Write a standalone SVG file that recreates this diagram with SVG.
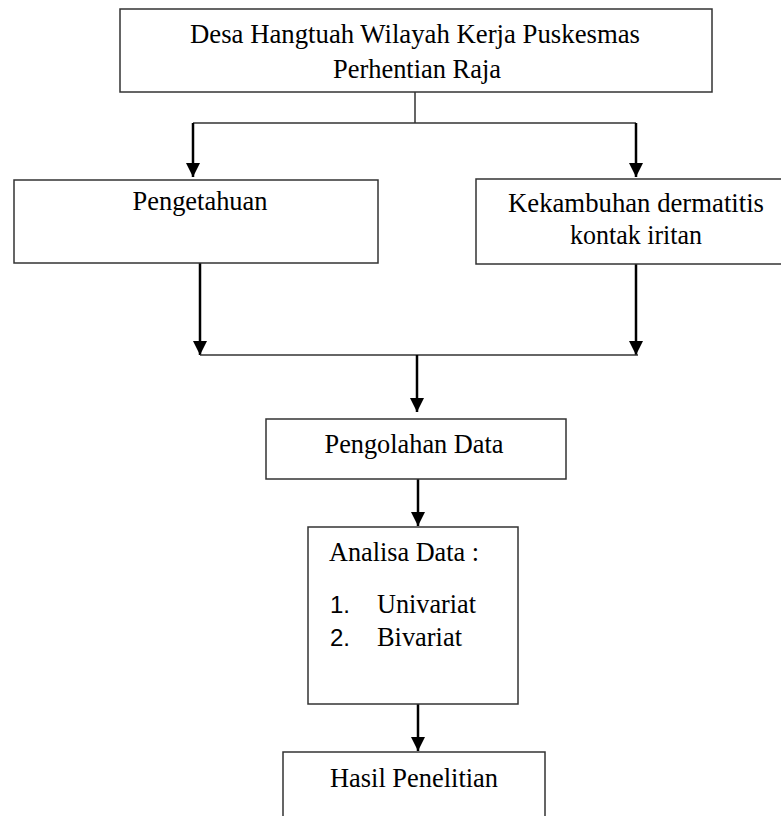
<svg xmlns="http://www.w3.org/2000/svg" width="781" height="816" viewBox="0 0 781 816">
<defs>
<style>
.box{fill:#fff;stroke:#333;stroke-width:1.5}
.t{font-family:"Liberation Serif","Times New Roman",serif;font-size:27px;fill:#000}
.n{font-family:"Liberation Sans",Arial,sans-serif;font-size:24px;fill:#000}
.c{fill:none;stroke:#000;stroke-width:2.5}
.ln{fill:none;stroke:#333;stroke-width:1.5}
</style>
<marker id="ah" markerWidth="14" markerHeight="14" refX="14" refY="7" orient="auto" markerUnits="userSpaceOnUse" viewBox="0 0 14 14">
<path d="M0,0 L14,7 L0,14 Z" fill="#000"/>
</marker>
</defs>
<rect width="781" height="816" fill="#fff"/>
<g id="connectors">
<path class="ln" d="M415,92 V123 M193,123 H636"/>
<path class="c" d="M193,123 V177" marker-end="url(#ah)"/>
<path class="c" d="M636,123 V177" marker-end="url(#ah)"/>
<path class="c" d="M200,263 V355" marker-end="url(#ah)"/>
<path class="c" d="M636,264 V355" marker-end="url(#ah)"/>
<path class="ln" d="M200,355 H638"/>
<path class="c" d="M417,355 V412" marker-end="url(#ah)"/>
<path class="c" d="M418,479 V526" marker-end="url(#ah)"/>
<path class="c" d="M418,704 V751" marker-end="url(#ah)"/>
</g>
<g id="desa">
<rect class="box" x="120" y="9" width="592" height="83"/>
<text class="t" x="415" y="43" text-anchor="middle" textLength="450" lengthAdjust="spacingAndGlyphs">Desa Hangtuah Wilayah Kerja Puskesmas</text>
<text class="t" x="417" y="78" text-anchor="middle" textLength="168" lengthAdjust="spacingAndGlyphs">Perhentian Raja</text>
</g>
<g id="pengetahuan">
<rect class="box" x="14" y="180" width="364" height="83"/>
<text class="t" x="200" y="210" text-anchor="middle" textLength="135" lengthAdjust="spacingAndGlyphs">Pengetahuan</text>
</g>
<g id="kekambuhan">
<rect class="box" x="476" y="179" width="310" height="85"/>
<text class="t" x="636" y="212" text-anchor="middle" textLength="256" lengthAdjust="spacingAndGlyphs">Kekambuhan dermatitis</text>
<text class="t" x="636" y="244" text-anchor="middle" textLength="132" lengthAdjust="spacingAndGlyphs">kontak iritan</text>
</g>
<g id="pengolahan">
<rect class="box" x="266" y="419" width="300" height="60"/>
<text class="t" x="414" y="453" text-anchor="middle" textLength="179" lengthAdjust="spacingAndGlyphs">Pengolahan Data</text>
</g>
<g id="analisa">
<rect class="box" x="308" y="527" width="210" height="177"/>
<text class="t" x="329" y="561" textLength="150" lengthAdjust="spacingAndGlyphs">Analisa Data :</text>
<text class="n" x="330" y="613">1.</text>
<text class="t" x="377" y="613" textLength="99" lengthAdjust="spacingAndGlyphs">Univariat</text>
<text class="n" x="330" y="646">2.</text>
<text class="t" x="377" y="646" textLength="85" lengthAdjust="spacingAndGlyphs">Bivariat</text>
</g>
<g id="hasil">
<rect class="box" x="283" y="752" width="262" height="80"/>
<text class="t" x="414" y="787" text-anchor="middle" textLength="168" lengthAdjust="spacingAndGlyphs">Hasil Penelitian</text>
</g>
</svg>
